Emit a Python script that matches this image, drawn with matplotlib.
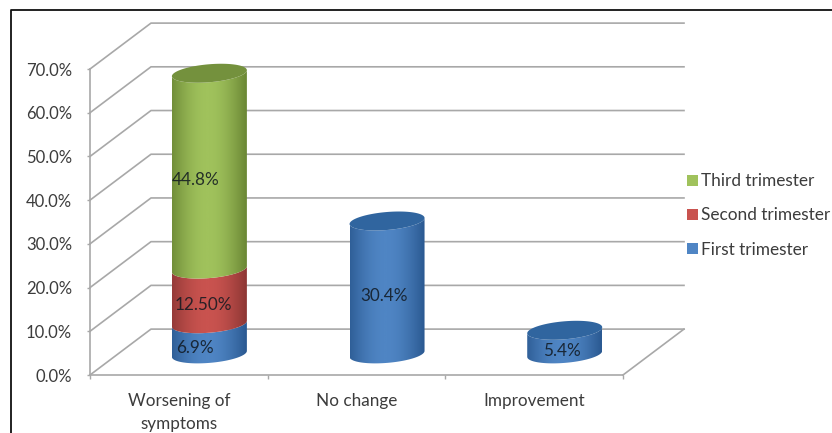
import numpy as np
import matplotlib
matplotlib.use("Agg")
import matplotlib.pyplot as plt
from matplotlib.colors import LinearSegmentedColormap
from matplotlib.lines import Line2D
from matplotlib.patches import Patch, Polygon
from matplotlib.path import Path

categories = ["Worsening of\nsymptoms", "No change", "Improvement"]
series_names = ["First trimester", "Second trimester", "Third trimester"]
first_trimester = [6.9, 30.4, 5.4]
second_trimester = [12.5, 0, 0]
third_trimester = [44.8, 0, 0]
value_labels = [
    ["6.9%", "30.4%", "5.4%"],
    ["12.50%", "", ""],
    ["44.8%", "", ""],
]
y_ticks = [0, 10, 20, 30, 40, 50, 60, 70]

# edge, middle, top cap
SHADES = {
    "First trimester": ("#2b5a92", "#4f85c4", "#30659f"),
    "Second trimester": ("#8e3735", "#c9534f", "#a03f3c"),
    "Third trimester": ("#6b8835", "#a0c25c", "#74913d"),
}
GRID = "#a8a8a8"
TEXT = "#3c3c3c"

# depth of the fake 3D box, in category widths and percent
DEPTH_X = 61 / 177.7
DEPTH_Y = 10.5
BAR_HALF = 37.5 / 177.7
CYL_SHIFT = 0.172
CYL_DEPTH = 0.46
TILT = 3.0 / 4.37
CAP = 9.0 / 4.37

plt.rcParams["font.family"] = ["Lato", "DejaVu Sans"]


def lower_arc(cx, y):
    t = np.linspace(np.pi, 2 * np.pi, 60)
    return cx + BAR_HALF * np.cos(t), y + TILT * np.cos(t) + CAP * np.sin(t)


def draw_segment(ax, fig, cx, y0, y1, shade, z):
    xa, ya = lower_arc(cx, y0)
    xb, yb = lower_arc(cx, y1)
    pts = np.vstack([np.column_stack([xa, ya]), np.column_stack([xb, yb])[::-1]])
    cmap = LinearSegmentedColormap.from_list("cyl", [shade[0], shade[1]], N=256)
    # brightest a little left of the middle, dark towards both sides
    grad = np.cos(np.linspace(-1.45, 1.6, 256)).reshape(1, -1)
    im = ax.imshow(grad, cmap=cmap, aspect="auto", zorder=z, vmin=0, vmax=1,
                   extent=[cx - BAR_HALF, cx + BAR_HALF, y0 - 5, y1 + 5])
    im.set_clip_box(fig.bbox)
    im.set_clip_path(Path(np.vstack([pts, pts[:1]])), transform=ax.transData)


def draw_cap(ax, cx, y, colour, z):
    t = np.linspace(0, 2 * np.pi, 120)
    pts = np.column_stack([cx + BAR_HALF * np.cos(t),
                           y + TILT * np.cos(t) + CAP * np.sin(t)])
    ax.add_patch(Polygon(pts, closed=True, fc=colour, ec="none", zorder=z, clip_on=False))


def draw_box(ax):
    n = len(categories)
    for v in y_ticks:
        ax.plot([0, DEPTH_X, n + DEPTH_X], [v, v + DEPTH_Y, v + DEPTH_Y],
                color=GRID, lw=1.2, clip_on=False, zorder=1)
    ax.plot([n, n + DEPTH_X], [0, DEPTH_Y], color=GRID, lw=1.2, clip_on=False, zorder=1)


def main():
    fig = plt.figure(figsize=(8.32, 4.33), dpi=100)
    ax = fig.add_axes([90 / 832, 58 / 433, 533 / 832, 306 / 433])
    draw_box(ax)

    stacks = [first_trimester, second_trimester, third_trimester]
    nudge = [[-14, -3, -3], [-6, 0, 0], [-14, 0, 0]]
    for i in range(len(categories)):
        cx = i + 0.5 + CYL_SHIFT
        base = CYL_DEPTH * DEPTH_Y
        z = 3
        for s, name in enumerate(series_names):
            val = stacks[s][i]
            if val == 0:
                continue
            draw_segment(ax, fig, cx, base, base + val, SHADES[name], z)
            ax.text(cx + nudge[s][i] / 177.7, base + val / 2 - 2, value_labels[s][i],
                    ha="center", va="center", fontsize=12.3, color="#101820", alpha=0.85, zorder=10)
            base += val
            top_name = name
            z += 1
        draw_cap(ax, cx, base, SHADES[top_name][2], z)

    ax.set_xlim(0, len(categories))
    ax.set_ylim(0, 70)
    ax.set_facecolor("none")
    for side in ["top", "right"]:
        ax.spines[side].set_visible(False)
    for side in ["left", "bottom"]:
        ax.spines[side].set_color(GRID)
        ax.spines[side].set_linewidth(1.2)

    ax.set_yticks(y_ticks)
    ax.set_yticklabels([f"{v:.1f}%" for v in y_ticks])
    ax.set_xticks([i + 0.5 for i in range(len(categories))])
    ax.set_xticklabels(categories, linespacing=1.55)
    ax.set_xticks(range(len(categories) + 1), minor=True)
    ax.tick_params(axis="x", which="major", length=0, pad=13, labelsize=12.3, labelcolor=TEXT)
    ax.tick_params(axis="x", which="minor", length=3, width=1, color=GRID)
    ax.tick_params(axis="y", length=2.5, width=1, color=GRID, pad=10.5, labelsize=12, labelcolor=TEXT)

    handles = [Patch(fc=SHADES[name][1], ec="none") for name in reversed(series_names)]
    fig.legend(handles, list(reversed(series_names)), loc="center left",
               bbox_to_anchor=(687 / 832, 1 - 215.5 / 433), frameon=False, fontsize=12.4,
               labelcolor=TEXT, handlelength=0.62, handleheight=0.62, handletextpad=0.2,
               labelspacing=1.05, borderpad=0, borderaxespad=0)

    # page frame, only top and left show
    fig.add_artist(Line2D([11 / 832, 11 / 832, 1], [0, 1 - 10 / 433, 1 - 10 / 433],
                          color="#101010", lw=1.3, transform=fig.transFigure))

    fig.savefig("out.png", dpi=100)


if __name__ == "__main__":
    main()
